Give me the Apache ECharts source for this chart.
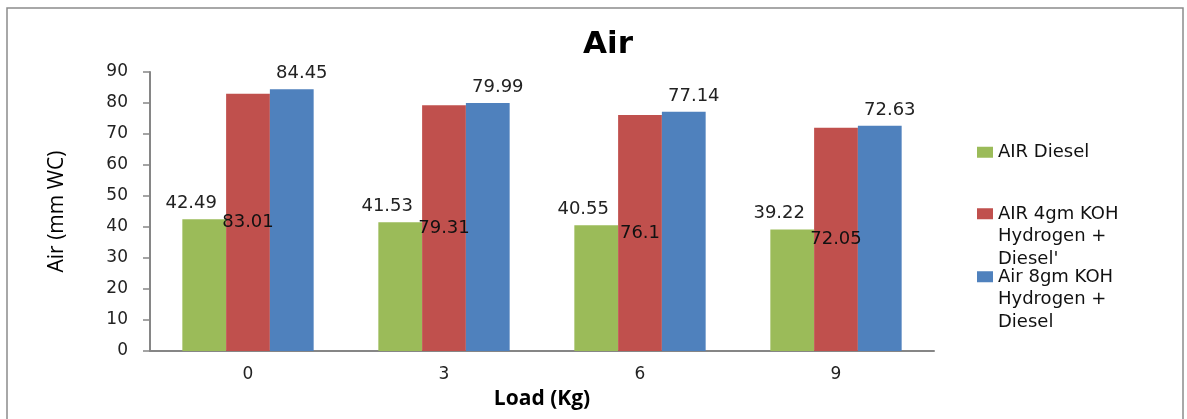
<!DOCTYPE html>
<html>
<head>
<meta charset="utf-8">
<script src="https://cdn.jsdelivr.net/npm/echarts@6/dist/echarts.min.js"></script>
<style>
html,body{margin:0;padding:0;background:#fff;}
#chart{width:1187px;height:419px;}
</style>
</head>
<body>
<div id="chart"></div>
<script>
const categories = ['0', '3', '6', '9'];
const seriesNames = ['AIR Diesel', "AIR 4gm KOH\nHydrogen +\nDiesel'", 'Air 8gm KOH\nHydrogen +\nDiesel'];
const airDiesel = [42.49, 41.53, 40.55, 39.22];
const air4gm = [83.01, 79.31, 76.1, 72.05];
const air8gm = [84.45, 79.99, 77.14, 72.63];
const yTicks = { min: 0, max: 90, interval: 10 };
const colors = ['#9BBB59', '#C0504D', '#4F81BD'];

const chart = echarts.init(document.getElementById('chart'), null, { renderer: 'canvas' });
const numFont = 'DejaVu Sans';
const tallIcon = 'path://M0,5 L16,5 L16,16 L0,16 Z M0,0 L0.01,0 L0,0.01 Z M0,67 L0.01,67 L0,66.99 Z';

function legendFor(i, top, multi) {
  return {
    orient: 'vertical',
    left: 977,
    top: top,
    padding: 0,
    data: [{ name: seriesNames[i], icon: multi ? tallIcon : 'rect' }],
    itemWidth: 16,
    itemHeight: multi ? 67 : 11,
    symbolKeepAspect: false,
    itemGap: 0,
    selectedMode: false,
    textStyle: { fontFamily: numFont, fontSize: 18, color: '#111', lineHeight: 22.5 }
  };
}

const option = {
  backgroundColor: '#fff',
  animation: false,
  title: {
    text: 'Air',
    left: 603,
    top: 24,
    textAlign: 'center',
    textStyle: { fontFamily: numFont, fontSize: 31, fontWeight: 'bold', color: '#000' }
  },
  legend: [legendFor(0, 141, false), legendFor(1, 203, true), legendFor(2, 266, true)],
  grid: { left: 150, right: 253, top: 72, bottom: 68, containLabel: false },
  xAxis: {
    type: 'category',
    data: categories,
    name: 'Load (Kg)',
    nameLocation: 'middle',
    nameGap: 38,
    nameTextStyle: { fontFamily: 'Open Sans', fontSize: 21, fontWeight: 'bold', color: '#000' },
    axisLine: { lineStyle: { color: '#868686', width: 2 } },
    axisTick: { show: false },
    axisLabel: { fontFamily: numFont, fontSize: 17, color: '#222', margin: 15 }
  },
  yAxis: {
    type: 'value',
    min: yTicks.min,
    max: yTicks.max,
    interval: yTicks.interval,
    name: 'Air (mm WC)',
    nameLocation: 'middle',
    nameGap: 82,
    nameRotate: 90,
    nameTextStyle: { fontFamily: 'Open Sans', fontSize: 21, color: '#000' },
    axisLine: { show: true, lineStyle: { color: '#868686', width: 2 } },
    axisTick: { show: true, length: 7, lineStyle: { color: '#868686', width: 1.5 } },
    axisLabel: { fontFamily: numFont, fontSize: 17, color: '#222', margin: 22 },
    splitLine: { show: false }
  },
  series: [
    {
      name: seriesNames[0], type: 'bar', data: airDiesel,
      itemStyle: { color: colors[0] },
      barGap: '0%', barCategoryGap: '33%',
      label: { show: true, position: 'top', distance: 7, offset: [-13, 0],
        fontFamily: numFont, fontSize: 18, color: '#222' }
    },
    {
      name: seriesNames[1], type: 'bar', data: air4gm,
      itemStyle: { color: colors[1] },
      barGap: '0%', barCategoryGap: '33%',
      label: { show: true, position: 'inside',
        fontFamily: numFont, fontSize: 18, color: '#111' }
    },
    {
      name: seriesNames[2], type: 'bar', data: air8gm,
      itemStyle: { color: colors[2] },
      barGap: '0%', barCategoryGap: '33%',
      label: { show: true, position: 'top', distance: 7, offset: [10, 0],
        fontFamily: numFont, fontSize: 18, color: '#222' }
    }
  ],
  graphic: [{
    type: 'rect',
    shape: { x: 7, y: 8, width: 1176, height: 440 },
    style: { fill: 'none', stroke: '#8c8c8c', lineWidth: 1.5 },
    silent: true,
    z: -1
  }]
};
chart.setOption(option);
</script>
</body>
</html>
